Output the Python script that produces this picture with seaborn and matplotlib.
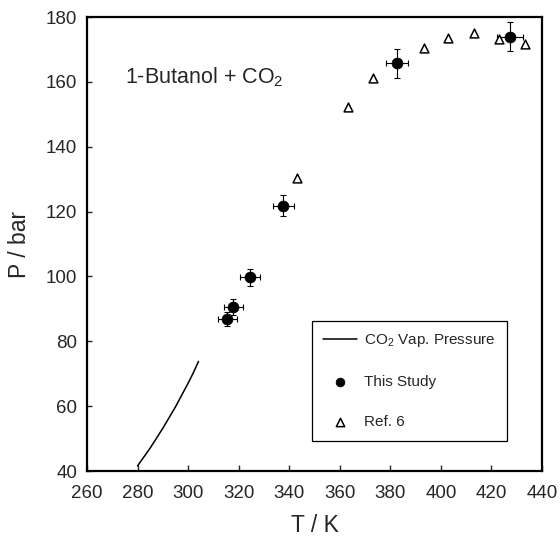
import matplotlib
matplotlib.use('Agg')
import matplotlib.pyplot as plt
import seaborn as sns
import pandas as pd

# CO2 vapour pressure curve
vap_T = [280, 285, 290, 295, 300, 302, 304.1]
vap_P = [41.6, 47.1, 53.2, 59.8, 67.1, 70.2, 73.8]

# this study (with error bars)
study_T = [315.5, 317.9, 324.5, 337.7, 382.5, 427.3]
study_P = [86.9, 90.5, 99.7, 121.8, 165.7, 173.9]
study_dT = [3.8, 3.8, 4.0, 4.0, 4.4, 5.3]
study_dP = [2.1, 2.4, 2.7, 3.2, 4.4, 4.5]

# Ref. 6
ref_T = [343.2, 363.4, 373.3, 393.3, 402.9, 413.1, 423.1, 433.3]
ref_P = [130.4, 152.2, 161.3, 170.5, 173.6, 175.0, 173.1, 171.6]

sns.set_style('ticks')
plt.rcParams['font.family'] = ['Liberation Sans', 'DejaVu Sans']
plt.rcParams['mathtext.default'] = 'regular'

fig = plt.figure(figsize=(5.6, 5.38), dpi=100)
ax = fig.add_axes([0.1554, 0.1245, 0.8125, 0.8439])

vap = pd.DataFrame({'T': vap_T, 'P': vap_P})
study = pd.DataFrame({'T': study_T, 'P': study_P})
ref = pd.DataFrame({'T': ref_T, 'P': ref_P})

sns.lineplot(data=vap, x='T', y='P', ax=ax, color='black', linewidth=1.1,
             sort=False, estimator=None, label='CO$_2$ Vap. Pressure')
ax.errorbar(study_T, study_P, xerr=study_dT, yerr=study_dP, fmt='none',
            ecolor='black', elinewidth=0.8, capsize=2, capthick=0.8, zorder=2)
sns.scatterplot(data=study, x='T', y='P', ax=ax, color='black', marker='o',
                s=62, edgecolor='black', linewidth=0.5, zorder=3, label='This Study')
sns.scatterplot(data=ref, x='T', y='P', ax=ax, marker='^', s=40,
                facecolor='white', edgecolor='black', linewidth=1.1, zorder=3,
                label='Ref. 6')

ax.set_xlim(260, 440)
ax.set_ylim(40, 180)
ax.set_xticks(range(260, 441, 20))
ax.set_yticks(range(40, 181, 20))
ax.tick_params(axis='x', direction='in', length=4, width=1, labelsize=13.5, pad=10)
ax.tick_params(axis='y', direction='in', length=3.5, width=1, labelsize=13.5, pad=7)
for sp in ax.spines.values():
    sp.set_linewidth(1.6)
    sp.set_color('black')

ax.set_xlabel('T / K', fontsize=16.5, labelpad=9)
ax.set_ylabel('P / bar', fontsize=16.5, labelpad=11)

ax.text(275, 161.5, '1-Butanol + CO$_2$', fontsize=15.5, ha='left', va='center')

handles, labels = ax.get_legend_handles_labels()
leg = ax.legend(handles, labels, loc='upper left', bbox_to_anchor=(0.4945, 0.331),
                borderaxespad=0, frameon=True, fancybox=False, framealpha=1,
                edgecolor='black', fontsize=11, labelspacing=1.7, borderpad=0.75,
                handlelength=2.2, handletextpad=0.45)
leg.get_frame().set_linewidth(0.9)
leg.legend_handles[1].set_sizes([40])
leg.legend_handles[2].set_sizes([36])

fig.savefig('out.png', dpi=100)
